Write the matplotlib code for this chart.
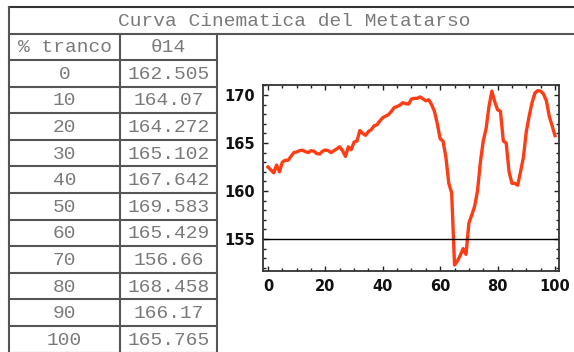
import matplotlib.pyplot as plt
from matplotlib.ticker import MultipleLocator

# table data
header = ["% tranco", "θ14"]
tranco = [0, 10, 20, 30, 40, 50, 60, 70, 80, 90, 100]
theta_tab = ["162.505", "164.07", "164.272", "165.102", "167.642", "169.583",
             "165.429", "156.66", "168.458", "166.17", "165.765"]

# curve, one value per % of stride
pct = list(range(0, 101))
theta = [162.5, 162.2, 161.9, 162.7, 162.0, 163.0, 163.2, 163.2, 163.6, 164.0,
         164.07, 164.2, 164.25, 164.1, 164.0, 164.2, 164.15, 163.9, 163.85, 164.15,
         164.27, 164.2, 164.0, 164.2, 164.4, 164.6, 164.2, 163.6, 164.6, 164.3,
         165.1, 165.2, 166.3, 166.0, 165.8, 166.2, 166.4, 166.8, 166.9, 167.3,
         167.64, 167.8, 167.95, 168.3, 168.7, 168.8, 168.95, 169.2, 169.1, 169.05,
         169.58, 169.65, 169.65, 169.8, 169.6, 169.4, 169.5, 169.0, 168.3, 167.0,
         165.43, 165.2, 163.5, 160.8, 159.8, 152.3, 152.7, 153.3, 154.0, 153.4,
         156.66, 157.5, 158.4, 160.0, 163.0, 165.2, 166.5, 168.8, 170.4, 169.3,
         168.46, 168.3, 165.2, 165.0, 162.0, 160.8, 160.8, 160.6, 162.0, 163.5,
         166.17, 167.8, 169.2, 170.2, 170.45, 170.4, 170.1, 169.4, 167.8, 166.8,
         165.77]
title = "Curva Cinematica del Metatarso"
ref_level = 155

W, H = 574, 352
fig = plt.figure(figsize=(W / 100, H / 100), dpi=100)
fig.patch.set_facecolor("white")

# table drawn in pixel coords on a background axes
bg = fig.add_axes([0, 0, 1, 1])
bg.set_xlim(0, W)
bg.set_ylim(H, 0)
bg.axis("off")

gc = "#555555"
lw = 1.5
x0, x1, x2 = 9, 120, 217
y_top, y_title, y_head = 7, 34, 60
row_h = 26.6

bg.plot([x0, W], [y_top, y_top], color="#333333", lw=lw)
bg.plot([x0, W], [y_title, y_title], color=gc, lw=lw)
bg.plot([x0, x0], [y_top, H], color=gc, lw=lw)
bg.plot([x1, x1], [y_title, H], color=gc, lw=lw)
bg.plot([x2, x2], [y_title, H], color=gc, lw=lw)
for i in range(len(tranco) + 1):
    y = y_head + i * row_h
    bg.plot([x0, x2], [y, y], color=gc, lw=lw)

tfont = dict(family="Liberation Mono", size=14, color="#7a7a7a",
             ha="center", va="center")
bg.text((x0 + W + 6) / 2, (y_top + y_title) / 2 + 1, title, **tfont)
bg.text((x0 + x1) / 2, (y_title + y_head) / 2 + 1, header[0], **tfont)
bg.text((x1 + x2) / 2, (y_title + y_head) / 2 + 1, header[1], **tfont)
for i, (p, v) in enumerate(zip(tranco, theta_tab)):
    yc = y_head + (i + 0.5) * row_h + 1
    bg.text((x0 + x1) / 2, yc, str(p), **tfont)
    bg.text((x1 + x2) / 2, yc, v, **tfont)

# the plot
ax = fig.add_axes([263 / W, 1 - 271 / H, 296 / W, 186 / H])
ax.plot(pct, theta, color="#ff3c14", lw=2.4, solid_joinstyle="round")
ax.axhline(ref_level, color="black", lw=1.0)
ax.set_xlim(-1.74, 101.4)
ax.set_ylim(151.67, 171.04)
ax.xaxis.set_major_locator(MultipleLocator(20))
ax.xaxis.set_minor_locator(MultipleLocator(5))
ax.yaxis.set_major_locator(MultipleLocator(5))
ax.yaxis.set_minor_locator(MultipleLocator(1))
ax.tick_params(which="both", direction="in", top=True, right=True,
               color="#222222", width=1.0, labelsize=10.5)
ax.tick_params(which="major", length=3.5)
ax.tick_params(which="minor", length=2)
ax.tick_params(axis="y", pad=5.5)
ax.tick_params(axis="x", pad=6)
for lab in ax.get_xticklabels() + ax.get_yticklabels():
    lab.set_fontweight("bold")
    lab.set_family("DejaVu Sans")
    lab.set_color("#111111")
for s in ax.spines.values():
    s.set_color("#333333")
    s.set_linewidth(1.3)

fig.savefig("out.png", dpi=100)
